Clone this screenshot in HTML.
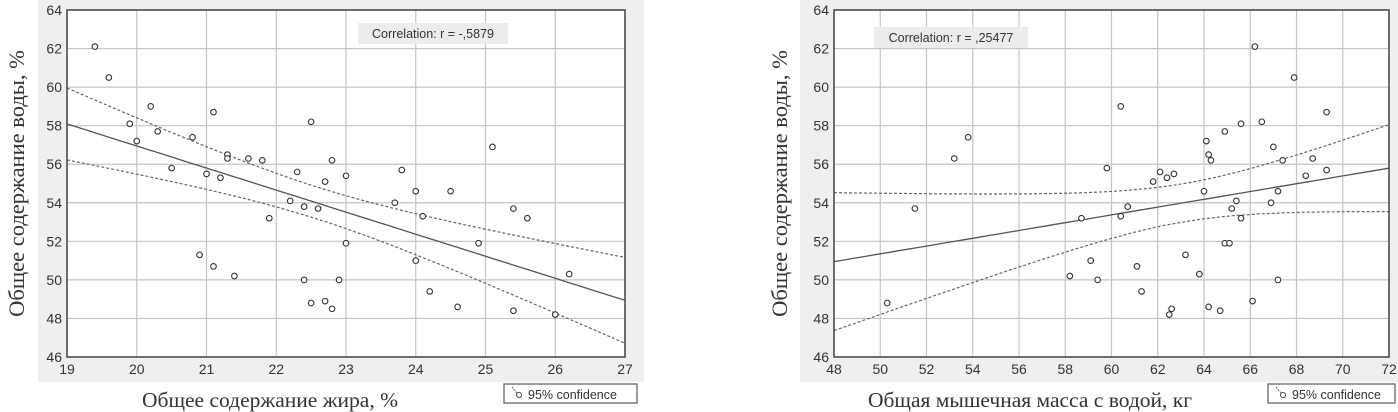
<!DOCTYPE html>
<html><head><meta charset="utf-8">
<style>
html,body{margin:0;padding:0;background:#fff;}
svg{display:block;}
text{font-family:"Liberation Sans","DejaVu Sans",sans-serif;}
.ser{font-family:"Liberation Serif","DejaVu Serif",serif;}
</style></head>
<body>
<svg id="fig" width="1398" height="412" viewBox="0 0 1398 412" xmlns="http://www.w3.org/2000/svg"></svg>
<script>
// ---- Left chart data ----
const fatX = [19.4,19.6,19.9,20.0,20.2,20.3,20.5,20.8,20.9,21.0,21.1,21.1,21.2,21.3,21.3,21.4,21.6,21.8,21.9,22.2,22.3,22.4,22.4,22.5,22.5,22.6,22.7,22.7,22.8,22.8,22.9,23.0,23.0,23.7,23.8,24.0,24.0,24.1,24.2,24.5,24.6,24.9,25.1,25.4,25.4,25.6,26.0,26.2];
const fatWaterY = [62.1,60.5,58.1,57.2,59.0,57.7,55.8,57.4,51.3,55.5,58.7,50.7,55.3,56.5,56.3,50.2,56.3,56.2,53.2,54.1,55.6,53.8,50.0,58.2,48.8,53.7,55.1,48.9,56.2,48.5,50.0,55.4,51.9,54.0,55.7,54.6,51.0,53.3,49.4,54.6,48.6,51.9,56.9,53.7,48.4,53.2,48.2,50.3];
const fatXTicks = [19,20,21,22,23,24,25,26,27];
const waterYTicks = [46,48,50,52,54,56,58,60,62,64];
// ---- Right chart data ----
const massX = [50.3,51.5,53.2,53.8,58.2,58.7,59.1,59.4,59.8,60.4,60.4,60.7,61.1,61.3,61.8,62.1,62.4,62.5,62.6,62.7,63.2,63.8,64.0,64.1,64.2,64.2,64.3,64.7,64.9,64.9,65.1,65.2,65.4,65.6,65.6,66.1,66.2,66.5,66.9,67.0,67.2,67.2,67.4,67.9,68.4,68.7,69.3,69.3];
const massWaterY = [48.8,53.7,56.3,57.4,50.2,53.2,51.0,50.0,55.8,59.0,53.3,53.8,50.7,49.4,55.1,55.6,55.3,48.2,48.5,55.5,51.3,50.3,54.6,57.2,56.5,48.6,56.2,48.4,57.7,51.9,51.9,53.7,54.1,58.1,53.2,48.9,62.1,58.2,54.0,56.9,54.6,50.0,56.2,60.5,55.4,56.3,58.7,55.7];
const massXTicks = [48,50,52,54,56,58,60,62,64,66,68,70,72];

const NS="http://www.w3.org/2000/svg";
const svg=document.getElementById('fig');
function mk(tag,attrs,parent){const e=document.createElementNS(NS,tag);for(const k in attrs)e.setAttribute(k,attrs[k]);(parent||svg).appendChild(e);return e;}

function regress(xs,ys){
  const n=xs.length;let mx=0,my=0;for(let i=0;i<n;i++){mx+=xs[i];my+=ys[i];}mx/=n;my/=n;
  let sxx=0,sxy=0;for(let i=0;i<n;i++){sxx+=(xs[i]-mx)**2;sxy+=(xs[i]-mx)*(ys[i]-my);}
  const b=sxy/sxx,a=my-b*mx;let sse=0;for(let i=0;i<n;i++)sse+=(ys[i]-a-b*xs[i])**2;
  const s=Math.sqrt(sse/(n-2));return {a,b,mx,sxx,s,n};
}

function chart(o){
  const g=mk('g',{});
  
  
  const bg=mk('rect',{x:o.bgX,y:0,width:o.bgW,height:382,fill:'#efefef'},g);
  
  
  const X=v=>o.L+(v-o.xMin)/(o.xMax-o.xMin)*(o.R-o.L);
  const Y=v=>o.B-(v-46)/(64-46)*(o.B-o.T);
  const pa=mk('rect',{x:o.L,y:o.T,width:o.R-o.L,height:o.B-o.T,fill:'#fff'},g);
  
  
  const grid=mk('g',{stroke:'#c4c4c4','stroke-width':1.2},g);
  
  
  o.xt.forEach(t=>{mk('line',{x1:X(t),x2:X(t),y1:o.T,y2:o.B},grid);
    const tl=mk('text',{x:X(t),y:o.B+17,'text-anchor':'middle','font-size':14,fill:'#333'},g);tl.textContent=t;
    
    });
  waterYTicks.forEach(t=>{mk('line',{x1:o.L,x2:o.R,y1:Y(t),y2:Y(t)},grid);
    const tl=mk('text',{x:o.L-5,y:Y(t)+5,'text-anchor':'end','font-size':14,fill:'#333'},g);tl.textContent=t;
    
    });
  const r=regress(o.xs,o.ys);const tcrit=2.013;
  let dl='',du='',dm='';
  for(let k=0;k<=60;k++){const xv=o.xMin+(o.xMax-o.xMin)*k/60;const yh=r.a+r.b*xv;
    const h=tcrit*r.s*Math.sqrt(1/r.n+(xv-r.mx)**2/r.sxx);
    const c=k?'L':'M';dm+=c+X(xv).toFixed(1)+','+Y(yh).toFixed(1);
    du+=c+X(xv).toFixed(1)+','+Y(yh+h).toFixed(1);dl+=c+X(xv).toFixed(1)+','+Y(yh-h).toFixed(1);}
  const rl=mk('path',{d:dm,fill:'none',stroke:'#555','stroke-width':1.3},g);
  
  
  const cu=mk('path',{d:du,fill:'none',stroke:'#666','stroke-width':1.2,'stroke-dasharray':'3,2'},g);
  
  
  const cl=mk('path',{d:dl,fill:'none',stroke:'#666','stroke-width':1.2,'stroke-dasharray':'3,2'},g);
  
  
  o.xs.forEach((xv,i)=>{const p=mk('circle',{cx:X(xv),cy:Y(o.ys[i]),r:2.8,fill:'#fff',stroke:'#333','stroke-width':1.1},g);
    
    });
  const fr=mk('rect',{x:o.L,y:o.T,width:o.R-o.L,height:o.B-o.T,fill:'none',stroke:'#444','stroke-width':1.5},g);
  
  
  const cb=mk('rect',{x:o.cbX,y:o.cbY,width:o.cbW,height:21,fill:'#ececec'},g);
  
  
  const ct=mk('text',{x:o.cbX+o.cbW/2,y:o.cbY+15,'text-anchor':'middle','font-size':12.5,fill:'#333'},g);
  ct.textContent=o.corr;
  
  
  const lg=mk('g',{},g);
  
  
  mk('rect',{x:o.lgX,y:384,width:o.lgW,height:19,fill:'#fff',stroke:'#666','stroke-width':1.3},lg);
  mk('path',{d:`M${o.lgX+8},387 L${o.lgX+18},399`,stroke:'#666','stroke-width':1,'stroke-dasharray':'2,1',fill:'none'},lg);
  mk('circle',{cx:o.lgX+15,cy:395,r:2.5,fill:'#fff',stroke:'#444'},lg);
  const lt=mk('text',{x:o.lgX+24,y:399,'font-size':12.5,fill:'#333'},lg);lt.textContent='95% confidence';
  const xa=mk('text',{x:o.xtX,y:407,'text-anchor':'middle','font-size':21.5,fill:'#333',class:'ser'},g);
  xa.textContent=o.xTitle;
  
  
  const ya=mk('text',{x:0,y:0,'text-anchor':'middle','font-size':22.5,fill:'#333',class:'ser',transform:`translate(${o.ytX},${(o.T+o.B)/2}) rotate(-90)`},g);
  ya.textContent='Общее содержание воды, %';
  
  
}

chart({name:'fat-vs-water-chart',xs:fatX,ys:fatWaterY,xt:fatXTicks,xMin:19,xMax:27,L:67,R:625,T:10,B:357,bgX:38,bgW:606,
  cbX:358,cbY:23,cbW:150,corr:'Correlation: r = -,5879',lgX:504,lgW:133,xtX:270,ytX:24,xTitle:'Общее содержание жира, %'});
chart({name:'muscle-mass-vs-water-chart',xs:massX,ys:massWaterY,xt:massXTicks,xMin:48,xMax:72,L:834,R:1389,T:10,B:357,bgX:800,bgW:598,
  cbX:874,cbY:27,cbW:154,corr:'Correlation: r = ,25477',lgX:1268,lgW:127,xtX:1030,ytX:787,xTitle:'Общая мышечная масса с водой, кг'});
</script>
</body></html>
